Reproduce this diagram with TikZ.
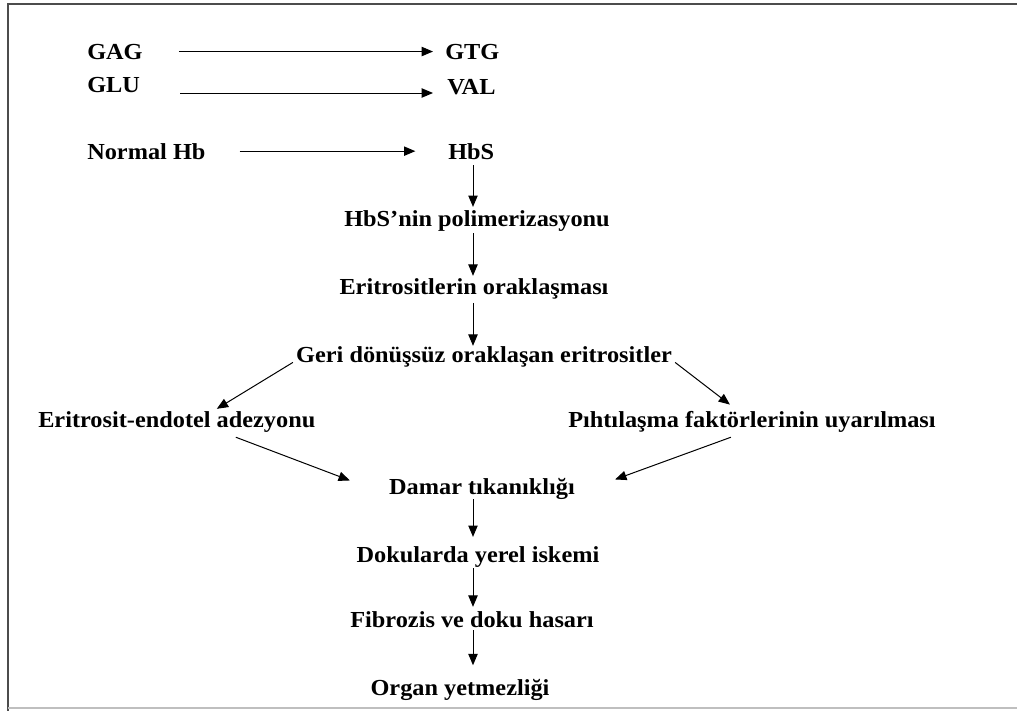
\documentclass[tikz,border=0pt]{standalone}
\usepackage{fontspec}
\setmainfont{Liberation Serif}[FakeStretch=1.06]
\usepackage{tikz}
\usetikzlibrary{arrows.meta}

\tikzset{
  lbl/.style={inner sep=0pt, font=\bfseries\fontsize{17.2}{20}\selectfont},
  arr/.style={-{Triangle[length=8.5pt,width=7pt]}, line width=0.75pt, black},
}

\begin{document}
\begin{tikzpicture}[x=0.75pt,y=-0.75pt]
\useasboundingbox (0,0) rectangle (1017,711);
% frame
\draw[line width=1.6pt, black!70] (1017,4) -- (8,4) -- (8,711);
\draw[line width=1pt, black!25] (8,708) -- (1017,708);

\node[lbl, anchor=base west] (gag) at (87,59) {GAG};
\node[lbl, anchor=base west] (gtg) at (445,59) {GTG};
\node[lbl, anchor=base west] (glu) at (87,92) {GLU};
\node[lbl, anchor=base west] (val) at (447,94) {VAL};
\node[lbl, anchor=base west] (normal) at (87,159) {Normal Hb};
\node[lbl, anchor=base west] (hbs) at (448,159) {HbS};
\node[lbl, anchor=base] (poly) at (477,226) {HbS'nin polimerizasyonu};
\node[lbl, anchor=base] (orak) at (474,294) {Eritrositlerin oraklaşması};
\node[lbl, anchor=base] (geri) at (484,362) {Geri dönüşsüz oraklaşan eritrositler};
\node[lbl, anchor=base west] (adez) at (38,427) {Eritrosit-endotel adezyonu};
\node[lbl, anchor=base west] (piht) at (568,427) {Pıhtılaşma faktörlerinin uyarılması};
\node[lbl, anchor=base] (damar) at (482,494) {Damar tıkanıklığı};
\node[lbl, anchor=base] (iskemi) at (478,562) {Dokularda yerel iskemi};
\node[lbl, anchor=base] (fibroz) at (472,627) {Fibrozis ve doku hasarı};
\node[lbl, anchor=base] (organ) at (460,695) {Organ yetmezliği};

% horizontal arrows
\draw[arr, shorten <=27pt, shorten >=9pt] (gag.east) -- (gtg.west);
\draw[arr, shorten <=30pt, shorten >=10.5pt] ([yshift=-0.75pt]glu.base east) -- ([yshift=-0.75pt]glu.base east -| val.west);
\draw[arr, shorten <=25.5pt, shorten >=24.5pt] (normal.east) -- (hbs.west);

% main column
\coordinate (axis) at (473,0);
\draw[arr, shorten <=4.5pt, shorten >=2.2pt] (axis |- hbs.south) -- (axis |- poly.north);
\draw[arr, shorten <=1.5pt, shorten >=1.5pt] (axis |- poly.south) -- (axis |- orak.north);
\draw[arr, shorten <=3pt] (axis |- orak.south) -- (axis |- geri.north);
\draw[arr, shorten >=6.7pt] (axis |- damar.south) -- (axis |- iskemi.north);
\draw[arr, shorten <=0.7pt, shorten >=3pt] (axis |- iskemi.south) -- (axis |- fibroz.north);
\draw[arr, shorten <=2.2pt, shorten >=10pt] (axis |- fibroz.south) -- (axis |- organ.north);

% branches
\draw[arr] ([shift={(-3,6)}]geri.west) -- ([shift={(40,-2)}]adez.north);
\draw[arr] ([shift={(3,6)}]geri.east) -- ([shift={(-22,-6)}]piht.north);
\draw[arr] ([shift={(59,5)}]adez.south) -- ([shift={(-39,-8)}]damar.west);
\draw[arr] ([shift={(-21,5)}]piht.south) -- ([shift={(40,-9)}]damar.east);
\end{tikzpicture}
\end{document}
